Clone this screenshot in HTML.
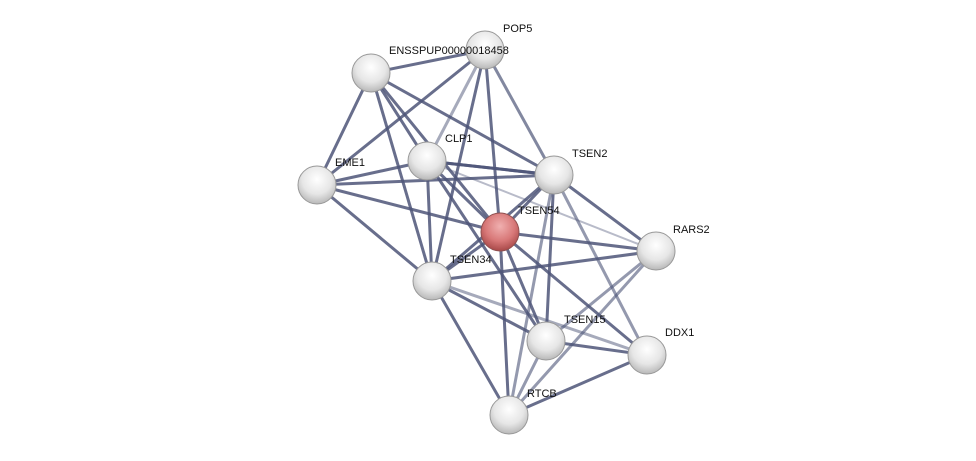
<!DOCTYPE html>
<html><head><style>
html,body{margin:0;padding:0;background:#fff;width:976px;height:461px;overflow:hidden}
text{font-family:"Liberation Sans",sans-serif;font-size:11px;fill:#111}
</style></head><body>
<svg width="976" height="461" xmlns="http://www.w3.org/2000/svg">
<defs>
<radialGradient id="g" cx="50%" cy="35%" r="65%">
<stop offset="0" stop-color="#ffffff"/><stop offset="0.6" stop-color="#e6e6e6"/><stop offset="1" stop-color="#b8b8b8"/></radialGradient>
<radialGradient id="r" cx="50%" cy="35%" r="65%">
<stop offset="0" stop-color="#f0b0b0"/><stop offset="0.6" stop-color="#d87878"/><stop offset="1" stop-color="#a84848"/></radialGradient>
<linearGradient id="hl" x1="0" y1="0" x2="0" y2="1"><stop offset="0" stop-color="#fff" stop-opacity="0.9"/><stop offset="1" stop-color="#fff" stop-opacity="0"/></linearGradient>
</defs>
<g stroke="#4d5578" stroke-width="3" stroke-linecap="round" fill="none">
<line x1="371" y1="73" x2="485" y2="50" stroke-opacity=".85"/>
<line x1="371" y1="73" x2="427" y2="161" stroke-opacity=".85"/>
<line x1="371" y1="73" x2="317" y2="185" stroke-opacity=".85"/>
<line x1="371" y1="73" x2="554" y2="175" stroke-opacity=".85"/>
<line x1="371" y1="73" x2="500" y2="232" stroke-opacity=".85"/>
<line x1="371" y1="73" x2="432" y2="281" stroke-opacity=".85"/>
<line x1="485" y1="50" x2="427" y2="161" stroke-opacity=".5"/>
<line x1="485" y1="50" x2="317" y2="185" stroke-opacity=".85"/>
<line x1="485" y1="50" x2="500" y2="232" stroke-opacity=".85"/>
<line x1="485" y1="50" x2="432" y2="281" stroke-opacity=".85"/>
<line x1="485" y1="50" x2="554" y2="175" stroke-opacity=".7"/>
<line x1="317" y1="185" x2="427" y2="161" stroke-opacity=".85"/>
<line x1="317" y1="185" x2="554" y2="175" stroke-opacity=".85"/>
<line x1="317" y1="185" x2="500" y2="232" stroke-opacity=".85"/>
<line x1="317" y1="185" x2="432" y2="281" stroke-opacity=".85"/>
<line x1="427" y1="161" x2="554" y2="175" stroke-opacity=".85"/>
<line x1="427" y1="161" x2="554" y2="175" stroke-opacity=".85"/>
<line x1="427" y1="161" x2="500" y2="232" stroke-opacity=".85"/>
<line x1="427" y1="161" x2="432" y2="281" stroke-opacity=".85"/>
<line x1="427" y1="161" x2="546" y2="341" stroke-opacity=".85"/>
<line x1="427" y1="161" x2="656" y2="251" stroke-opacity=".4" stroke-width="2"/>
<line x1="554" y1="175" x2="500" y2="232" stroke-opacity=".85"/>
<line x1="554" y1="175" x2="432" y2="281" stroke-opacity=".85"/>
<line x1="554" y1="175" x2="656" y2="251" stroke-opacity=".85"/>
<line x1="554" y1="175" x2="546" y2="341" stroke-opacity=".85"/>
<line x1="554" y1="175" x2="509" y2="415" stroke-opacity=".6"/>
<line x1="554" y1="175" x2="647" y2="355" stroke-opacity=".6"/>
<line x1="500" y1="232" x2="656" y2="251" stroke-opacity=".85"/>
<line x1="500" y1="232" x2="432" y2="281" stroke-opacity=".85"/>
<line x1="500" y1="232" x2="546" y2="341" stroke-opacity=".85"/>
<line x1="500" y1="232" x2="647" y2="355" stroke-opacity=".85"/>
<line x1="500" y1="232" x2="509" y2="415" stroke-opacity=".85"/>
<line x1="432" y1="281" x2="656" y2="251" stroke-opacity=".85"/>
<line x1="432" y1="281" x2="546" y2="341" stroke-opacity=".85"/>
<line x1="432" y1="281" x2="647" y2="355" stroke-opacity=".5"/>
<line x1="432" y1="281" x2="509" y2="415" stroke-opacity=".85"/>
<line x1="546" y1="341" x2="656" y2="251" stroke-opacity=".6"/>
<line x1="546" y1="341" x2="647" y2="355" stroke-opacity=".85"/>
<line x1="546" y1="341" x2="509" y2="415" stroke-opacity=".6"/>
<line x1="509" y1="415" x2="647" y2="355" stroke-opacity=".85"/>
<line x1="509" y1="415" x2="656" y2="251" stroke-opacity=".6"/>
</g>
<g stroke="#999" stroke-width="1">
<circle cx="485" cy="50" r="19" fill="url(#g)"/>
<circle cx="371" cy="73" r="19" fill="url(#g)"/>
<circle cx="427" cy="161" r="19" fill="url(#g)"/>
<circle cx="317" cy="185" r="19" fill="url(#g)"/>
<circle cx="554" cy="175" r="19" fill="url(#g)"/>
<circle cx="656" cy="251" r="19" fill="url(#g)"/>
<circle cx="432" cy="281" r="19" fill="url(#g)"/>
<circle cx="546" cy="341" r="19" fill="url(#g)"/>
<circle cx="647" cy="355" r="19" fill="url(#g)"/>
<circle cx="509" cy="415" r="19" fill="url(#g)"/>
<circle cx="500" cy="232" r="19" fill="url(#r)" stroke="#905050"/>
</g>
<g>
<text x="503" y="32">POP5</text>
<text x="389" y="54">ENSSPUP00000018458</text>
<text x="445" y="142">CLP1</text>
<text x="335" y="166">EME1</text>
<text x="572" y="157">TSEN2</text>
<text x="518" y="214">TSEN54</text>
<text x="673" y="233">RARS2</text>
<text x="450" y="263">TSEN34</text>
<text x="564" y="323">TSEN15</text>
<text x="665" y="336">DDX1</text>
<text x="527" y="397">RTCB</text>
</g>
</svg>
</body></html>
